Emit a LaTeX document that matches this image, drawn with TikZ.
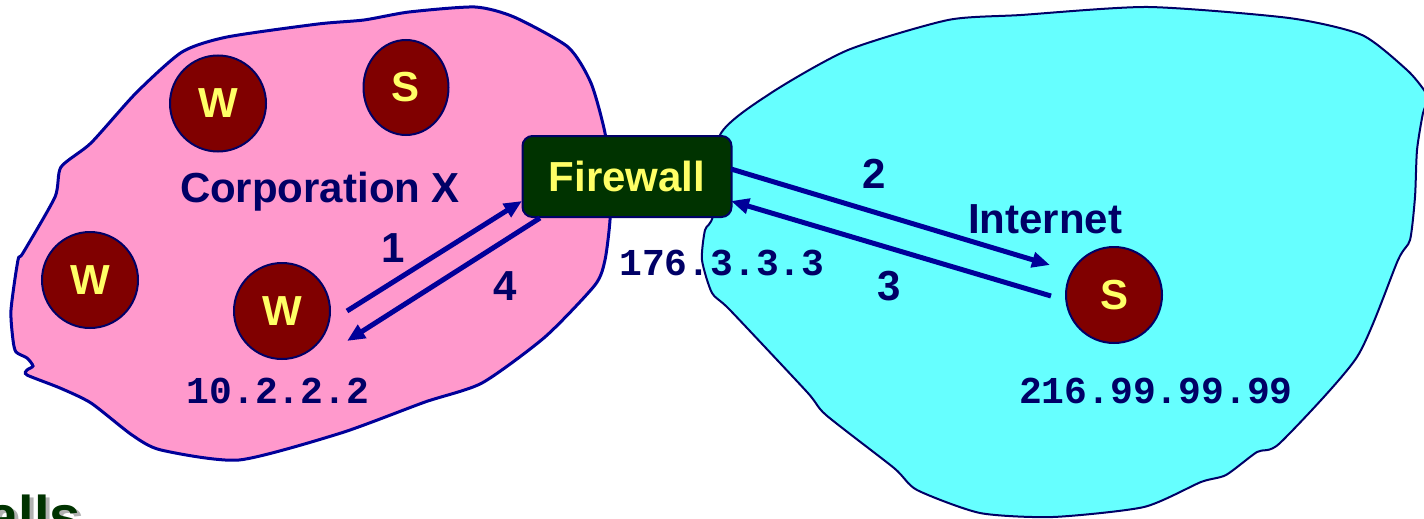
\documentclass[tikz,border=0pt]{standalone}
\usepackage{fontspec}
\setmainfont{Liberation Sans}
\newfontfamily\ipfont{Liberation Mono}
\usetikzlibrary{arrows.meta,shapes.geometric}
\definecolor{pinkfill}{HTML}{FF99CC}
\definecolor{cyanfill}{HTML}{66FFFF}
\definecolor{navyline}{HTML}{000099}
\definecolor{navytext}{HTML}{000066}
\definecolor{hostred}{HTML}{800000}
\definecolor{hostyellow}{HTML}{FFFF66}
\definecolor{fwgreen}{HTML}{003300}
\definecolor{shadowgray}{HTML}{B2B2B2}
\begin{document}
\begin{tikzpicture}[x=1pt,y=-1pt,
  host/.style={ellipse, minimum width=96pt, minimum height=96pt, inner sep=0pt,
    fill=hostred, draw=navytext, line width=2pt, text=hostyellow,
    font=\fontsize{42}{42}\selectfont\bfseries},
  lbl/.style={text=navytext, font=\fontsize{42}{42}\selectfont\bfseries, inner sep=0pt, anchor=base},
  iplbl/.style={text=navytext, font=\fontsize{38}{38}\selectfont\ipfont\bfseries, inner sep=0pt, anchor=base},
  flow/.style={draw=navyline, line width=5pt, -{Triangle[length=18pt,width=15pt]}},
  headtxt/.style={font=\fontsize{56}{56}\selectfont\bfseries, inner sep=0pt, anchor=base west}]
\useasboundingbox (0,0) rectangle (1424,519);
\clip (0,0) rectangle (1424,519);
% Corporation X cloud
\draw[fill=pinkfill, draw=navyline, line width=3pt] plot[smooth cycle, tension=0.4] coordinates {
  (409,12) (475,7) (514,17) (568,47) (591,83) (605,133) (610,180) (610,220) (605,260)
  (595,285) (545,337) (482,383) (425,402) (341,433) (239,460) (161,450) (132,435)
  (91,403) (60,388) (27,375) (27,370) (33,366) (27,358) (16,352) (13,340) (11,310)
  (18,260) (23,253) (55,197) (61,167) (91,143) (136,93) (182,52) (227,37) (318,24) (364,20)};
% Internet cloud
\draw[fill=cyanfill, draw=navytext, line width=2pt] plot[smooth cycle, tension=0.4] coordinates {
  (720,135) (771,93) (848,50) (948,20) (1021,15) (1148,7) (1289,18) (1362,35) (1407,70)
  (1424,90) (1428,100) (1423,113) (1417,150) (1415,197) (1410,240) (1398,260) (1357,357)
  (1280,443) (1257,452) (1226,475) (1201,482) (1144,507) (1053,517) (980,513) (917,490)
  (894,468) (826,415) (807,392) (730,310) (712,293) (702,260) (705,230) (713,215)};
% heading fragment
\node[headtxt, text=shadowgray] (headshadow) at (-155,538) {Firewalls};
\node[headtxt, text=fwgreen] (head) at (-159,535) {Firewalls};
% hosts
\node[host] (w1) at (218,103.5) {W};
\node[host, minimum width=85pt, minimum height=95pt] (s1) at (406,87.5) {S};
\node[host] (w2) at (90,280) {W};
\node[host] (w3) at (282,311) {W};
\node[host] (s2) at (1114,295) {S};
% labels
\node[lbl] (corp) at (320,202) {Corporation X};
\node[lbl] (inet) at (1045,233) {Internet};
\node[lbl] (n1) at (393,262) {1};
\node[lbl] (n4) at (505,300) {4};
\node[lbl] (n2) at (874,188) {2};
\node[lbl] (n3) at (889,300) {3};
\node[iplbl] (ip1) at (278,403) {10.2.2.2};
\node[iplbl] (ip2) at (1156,403) {216.99.99.99};
\node[iplbl] (ip3) at (722,275) {176.3.3.3};
% firewall
\node[rectangle, rounded corners=10pt, minimum width=209pt, minimum height=81pt, inner sep=0pt,
  fill=fwgreen, draw=navytext, line width=2pt, text=hostyellow,
  font=\fontsize{42}{42}\selectfont\bfseries] (fw) at (627,176.5) {Firewall};
% flow endpoints
\coordinate (a1s) at (347,311);
\coordinate (a1e) at (522,201);
\coordinate (a4s) at (540,218);
\coordinate (a4e) at (347,341);
\coordinate (a2s) at (731,169);
\coordinate (a2e) at (1050,265);
\coordinate (a3s) at (1051,296);
\coordinate (a3e) at (731,201);
\draw[flow] (a1s) -- (a1e);
\draw[flow] (a4s) -- (a4e);
\draw[flow] (a2s) -- (a2e);
\draw[flow] (a3s) -- (a3e);
\end{tikzpicture}
\end{document}
